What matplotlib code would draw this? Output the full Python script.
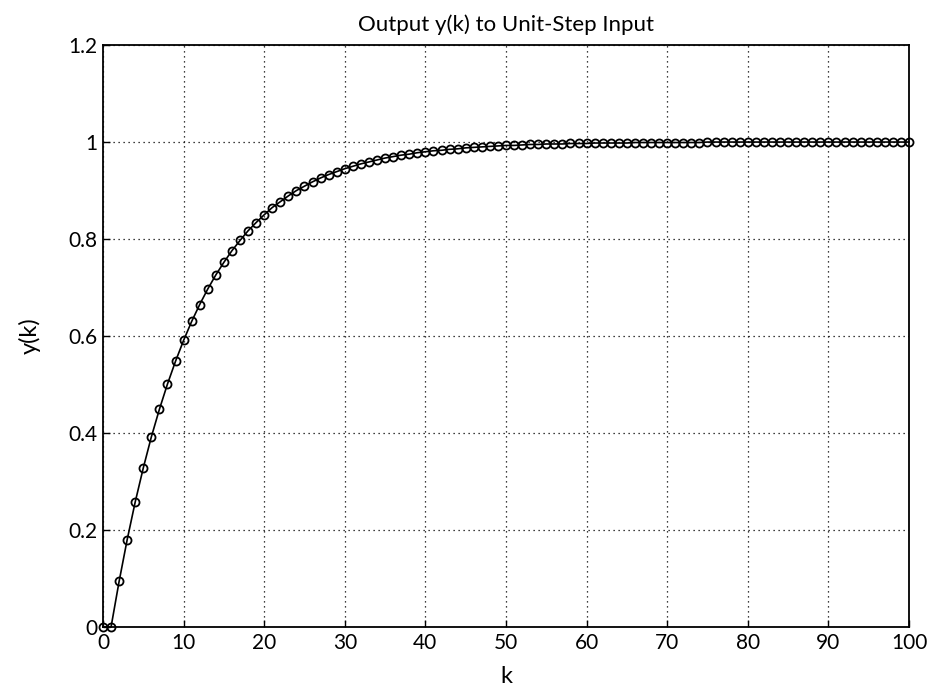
import matplotlib.pyplot as plt

# sample index and the read-off step response values
k = list(range(0, 101))
y = [0.000, 0.000, 0.094, 0.180, 0.258, 0.328, 0.392, 0.449, 0.501, 0.548,
     0.591, 0.630, 0.665, 0.697, 0.726, 0.752, 0.776, 0.797, 0.817, 0.834,
     0.850, 0.865, 0.877, 0.889, 0.900, 0.909, 0.918, 0.926, 0.933, 0.939,
     0.945, 0.950, 0.955, 0.959, 0.963, 0.967, 0.970, 0.973, 0.975, 0.978,
     0.980, 0.982, 0.983, 0.985, 0.986, 0.988, 0.989, 0.990, 0.991, 0.992,
     0.993, 0.993, 0.994, 0.995, 0.995, 0.996, 0.996, 0.996, 0.997, 0.997,
     0.997, 0.998, 0.998, 0.998, 0.998, 0.998, 0.999, 0.999, 0.999, 0.999,
     0.999, 0.999, 0.999, 0.999, 0.999, 1.000, 1.000, 1.000, 1.000, 1.000,
     1.000, 1.000, 1.000, 1.000, 1.000, 1.000, 1.000, 1.000, 1.000, 1.000,
     1.000, 1.000, 1.000, 1.000, 1.000, 1.000, 1.000, 1.000, 1.000, 1.000,
     1.000]

xticks = list(range(0, 101, 10))
yticks = [0, 0.2, 0.4, 0.6, 0.8, 1, 1.2]
ytick_labels = ["0", "0.2", "0.4", "0.6", "0.8", "1", "1.2"]

plt.rcParams["font.family"] = ["Lato", "DejaVu Sans"]

fig = plt.figure(figsize=(9.32, 6.93), dpi=100)
ax = fig.add_axes([0.1105, 0.0952, 0.8648, 0.8398])

# line with open circle markers
ax.plot(k, y, color="black", linewidth=1.2, marker="o", markersize=5.8,
        markerfacecolor="none", markeredgecolor="black", markeredgewidth=1.3,
        clip_on=False, zorder=3)

ax.set_xlim(0, 100)
ax.set_ylim(0, 1.2)
ax.set_xticks(xticks)
ax.set_yticks(yticks)
ax.set_yticklabels(ytick_labels)
ax.tick_params(direction="in", labelsize=15, length=5, width=1, pad=4)

ax.grid(True, color="black", linestyle=(0, (1, 3)), linewidth=0.9)
for s in ax.spines.values():
    s.set_linewidth(1.3)

ax.set_title("Output y(k) to Unit-Step Input", fontsize=16, pad=10)
ax.set_xlabel("k", fontsize=17, labelpad=10)
ax.set_ylabel("y(k)", fontsize=17, labelpad=20)

fig.savefig("out.png", dpi=100)
